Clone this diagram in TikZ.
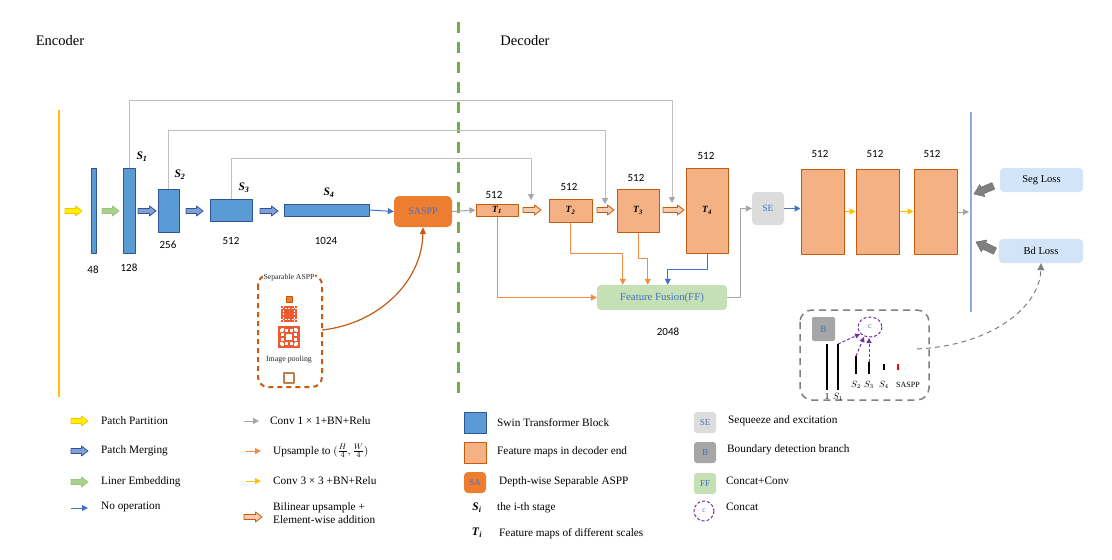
\documentclass[tikz,border=0pt]{standalone}
\usepackage{fontspec}
\setmainfont{Liberation Serif}
\newfontfamily\numfont{Carlito}
\usetikzlibrary{arrows.meta,calc}
\definecolor{swin}{HTML}{5B9BD5}
\definecolor{swinb}{HTML}{2F5597}
\definecolor{feat}{HTML}{F4B183}
\definecolor{featb}{HTML}{C55A11}
\definecolor{sa}{HTML}{ED7D31}
\definecolor{txtblue}{HTML}{4472C4}
\definecolor{lgray}{HTML}{BFBFBF}
\definecolor{agray}{HTML}{A6A6A6}
\definecolor{segray}{HTML}{DCDCDC}
\definecolor{dgreen}{HTML}{70AD47}
\definecolor{gold}{HTML}{FFC000}
\definecolor{ffgreen}{HTML}{C5E0B4}
\definecolor{segc}{HTML}{D2E4F7}
\definecolor{lineblue}{HTML}{8FAADC}
\definecolor{purp}{HTML}{7030A0}
\definecolor{pm}{HTML}{7F9FD6}
\definecolor{lgreen}{HTML}{A9D18E}
\definecolor{lgreenb}{HTML}{9CC47F}
\definecolor{ored}{HTML}{EE5A2E}
\definecolor{bilin}{HTML}{F8CBAD}
\definecolor{oline}{HTML}{F08C46}
\definecolor{hollow}{HTML}{C0804D}
\definecolor{panelgray}{HTML}{7F7F7F}
\newcommand\fsz[1]{\fontsize{#1}{#1}\selectfont}
\newcommand\bisub[2]{\textbf{\textit{#1}}\textsubscript{\textbf{\textit{#2}}}}
\newcommand\blockarr[4]{\filldraw[#1] (#2,#4-2.5) -- (#3-6.5,#4-2.5) -- (#3-6.5,#4-5) -- (#3,#4) -- (#3-6.5,#4+5) -- (#3-6.5,#4+2.5) -- (#2,#4+2.5) -- cycle;}
\tikzset{
  swinbox/.style={draw=swinb, fill=swin, line width=1pt, inner sep=0pt},
  featbox/.style={draw=featb, fill=feat, line width=1pt, inner sep=0pt},
  num/.style={font=\numfont\fsz{11}, inner sep=0pt},
  lab/.style={font=\fsz{11.3}, inner sep=0pt, anchor=west},
  slab/.style={font=\fsz{11.5}, inner sep=0pt},
  tip/.style={-{Triangle[length=6pt,width=6pt]}},
  gline/.style={draw=lgray, line width=1pt, -{Triangle[length=6pt,width=6pt,color=agray,fill=agray]}},
  oarrow/.style={draw=oline, line width=1pt, tip},
  yarrow/.style={draw=gold, line width=1pt, tip},
  barrow/.style={draw=txtblue, line width=1pt, tip},
  garrow/.style={draw=agray, line width=1pt, tip},
  pdash/.style={draw=purp, line width=1pt, dash pattern=on 3pt off 2pt, -{Triangle[length=5pt,width=5pt]}},
}
\begin{document}
\begin{tikzpicture}[x=1pt,y=-1pt,line join=round]
\fill[white] (0,0) rectangle (1112,560);
\useasboundingbox (0,0) rectangle (1112,560);

% titles
\node[font=\fsz{14.5}] (enc) at (60,41) {Encoder};
\node[font=\fsz{14.5}] (dec) at (525,41) {Decoder};

% separators
\draw[gold, line width=2pt] (59,110) coordinate (ytop) -- (59,397) coordinate (ybot);
\draw[dgreen, line width=3pt, dash pattern=on 11pt off 9pt] (458,22) coordinate (gtop) -- (458,395) coordinate (gbot);
\draw[lineblue, line width=2pt] (971,112) coordinate (btop) -- (971,312) coordinate (bbot);

% encoder bars
\node[swinbox, minimum width=5, minimum height=85] (b48) at (93.5,210.5) {};
\node[swinbox, minimum width=12, minimum height=85] (b128) at (129,210.5) {};
\node[swinbox, minimum width=21, minimum height=43] (b256) at (168.5,210.5) {};
\node[swinbox, minimum width=42, minimum height=22] (b512) at (231,210) {};
\node[swinbox, minimum width=85, minimum height=12] (b1024) at (326.5,210) {};
\node[fill=sa, rounded corners=5pt, minimum width=58, minimum height=31, inner sep=0pt, text=txtblue, font=\fsz{10}] (saspp) at (423,211.5) {SASPP};

\node[num] (n48) at (93,270) {48};
\node[num] (n128) at (129,268) {128};
\node[num] (n256) at (168,245) {256};
\node[num] (n512) at (231,241) {512};
\node[num] (n1024) at (326,241) {1024};
\node[slab] (ls1) at (142,157) {\bisub{S}{1}};
\node[slab] (ls2) at (180,175) {\bisub{S}{2}};
\node[slab] (ls3) at (244,188) {\bisub{S}{3}};
\node[slab] (ls4) at (329,193) {\bisub{S}{4}};

% encoder block arrows
\blockarr{draw=gold, fill=yellow, line width=0.8pt}{65}{82}{211}
\blockarr{draw=lgreenb, fill=lgreen, line width=0.8pt}{102}{119}{211}
\blockarr{draw=swinb, fill=pm, line width=0.8pt}{138}{156}{211}
\blockarr{draw=swinb, fill=pm, line width=0.8pt}{186}{203}{211}
\blockarr{draw=swinb, fill=pm, line width=0.8pt}{260}{278}{211}
\draw[barrow] (b1024.east) -- (saspp.west);

% decoder feature maps
\node[featbox, minimum width=42, minimum height=12, font=\fsz{9.5}] (t1) at (497,210) {\bisub{T}{1}};
\node[featbox, minimum width=43, minimum height=23, font=\fsz{9.5}] (t2) at (570.5,210.5) {\bisub{T}{2}};
\node[featbox, minimum width=42, minimum height=43, font=\fsz{9.5}] (t3) at (638,210.5) {\bisub{T}{3}};
\node[featbox, minimum width=42, minimum height=85, font=\fsz{9.5}] (t4) at (707,210.5) {\bisub{T}{4}};
\node[num] (nt1) at (494,195) {512};
\node[num] (nt2) at (569,187) {512};
\node[num] (nt3) at (636,178) {512};
\node[num] (nt4) at (706,156) {512};
\draw[garrow] (saspp.east) -- (t1.west);
\blockarr{draw=featb, fill=bilin, line width=0.8pt}{523}{541}{210}
\blockarr{draw=featb, fill=bilin, line width=0.8pt}{597}{614}{210}
\blockarr{draw=featb, fill=bilin, line width=0.8pt}{663}{684}{210}

% skip connections
\coordinate (g1) at (672,203);
\coordinate (g2) at (605,204);
\coordinate (g3) at (531,200);
\draw[gline] (b128.north) -- ++(0,-67) -| (g1);
\draw[gline] (b256.north) -- ++(0,-58) -| (g2);
\draw[gline] (b512.north) -- ++(0,-40) -| (g3);

% feature fusion
\node[fill=ffgreen, rounded corners=4pt, minimum width=130, minimum height=25, inner sep=0pt, text=txtblue, font=\fsz{10.8}] (ff) at (662,297.5) {Feature Fusion(FF)};
\node[num] (n2048) at (668,332) {2048};
\coordinate (f2) at ([xshift=26pt]ff.north west);
\coordinate (f3) at ([xshift=51pt]ff.north west);
\coordinate (f4) at ([xshift=71pt]ff.north west);
\draw[oarrow] (t1.south) |- (ff.west);
\draw[oarrow] (t2.south) -- ++(0,31) -| (f2);
\draw[oarrow] (t3.south) -- ++(0,26) -| (f3);
\draw[barrow] (t4.south) -- ++(0,16) -| (f4);

% SE and final maps
\node[fill=segray, rounded corners=4pt, minimum width=32, minimum height=33, inner sep=0pt, text=txtblue, font=\fsz{9.5}] (se) at (768,208.5) {SE};
\draw[garrow] (ff.east) -- ++(13,0) |- (se.west);
\node[featbox, minimum width=43, minimum height=85] (d1) at (822.5,211.5) {};
\node[featbox, minimum width=43, minimum height=85] (d2) at (877.5,211.5) {};
\node[featbox, minimum width=43, minimum height=85] (d3) at (935.5,211.5) {};
\node[num] (nd1) at (820,154) {512};
\node[num] (nd2) at (875,154) {512};
\node[num] (nd3) at (932,154) {512};
\draw[barrow] (se.east) -- (d1.west |- se.east);
\draw[yarrow] (d1.east) -- (d2.west);
\draw[yarrow] (d2.east) -- (d3.west);
\coordinate (vl) at (969,212);
\draw[garrow] (d3.east |- vl) -- (vl);

% losses
\node[fill=segc, rounded corners=4pt, minimum width=83, minimum height=24, inner sep=0pt, font=\fsz{10.5}] (seg) at (1041.5,180) {Seg Loss};
\node[fill=segc, rounded corners=4pt, minimum width=84, minimum height=24, inner sep=0pt, font=\fsz{10.5}] (bd) at (1041,251) {Bd Loss};
\begin{scope}[shift={(974,194)}, rotate=22.8]
\filldraw[draw=gray!90!black, fill=gray, line width=0.6pt] (0,0) -- (9,-6.5) -- (9,-3.5) -- (21,-3.5) -- (21,3.5) -- (9,3.5) -- (9,6.5) -- cycle;
\end{scope}
\begin{scope}[shift={(976,242)}, rotate=-25.5]
\filldraw[draw=gray!90!black, fill=gray, line width=0.6pt] (0,0) -- (9,-6.5) -- (9,-3.5) -- (21,-3.5) -- (21,3.5) -- (9,3.5) -- (9,6.5) -- cycle;
\end{scope}

% boundary panel
\draw[panelgray, line width=1.5pt, dash pattern=on 7pt off 5pt, rounded corners=12pt] (800,310) rectangle (929,400);
\node[fill=agray, rounded corners=2pt, minimum width=23, minimum height=24, inner sep=0pt, text=txtblue, font=\fsz{9.5}] (bb) at (823.5,329) {B};
\draw[purp, line width=1pt, dash pattern=on 3pt off 2pt] (870,327) ellipse [x radius=12, y radius=10];
\node[text=txtblue, font=\fsz{8}, inner sep=0pt] (cc) at (870,327) {c};
\coordinate (c1) at (860,334);
\coordinate (c2) at (864,337);
\coordinate (c3) at (869,338);
\draw[line width=1.2pt] (827,344) coordinate (l1t) -- (827,390);
\draw[line width=1.2pt] (838,344) coordinate (l2t) -- (838,390);
\draw[line width=1.2pt] (856,356) coordinate (l3t) -- (856,374);
\draw[line width=1.2pt] (869,362) coordinate (l4t) -- (869,374);
\draw[line width=1.2pt] (884,364) -- (884,370);
\draw[red, line width=1.2pt] (898,364) -- (898,370);
\draw[pdash] (l2t) -- (c1);
\draw[pdash] (l3t) -- (c2);
\draw[pdash] (l4t) -- (c3);
\node[inner sep=0pt, font=\fsz{9}] (bs2) at (856,385) {$S_2$};
\node[inner sep=0pt, font=\fsz{9}] (bs3) at (869,385) {$S_3$};
\node[inner sep=0pt, font=\fsz{9}] (bs4) at (884,385) {$S_4$};
\node[inner sep=0pt, font=\fsz{8}] (bsa) at (908,385) {SASPP};
\node[inner sep=0pt, font=\fsz{9}] (b1) at (827,397) {1};
\node[inner sep=0pt, font=\fsz{9}] (bs1) at (838,397) {$S_1$};
\coordinate (pout) at (917,349);
\draw[panelgray, line width=1pt, dash pattern=on 5pt off 4pt, -{Triangle[length=7pt,width=7pt]}] (pout) .. controls (995,345) and (1040,305) .. (bd.south);

% separable ASPP panel
\draw[featb, line width=2pt, dash pattern=on 5pt off 4pt, rounded corners=10pt] (258,275) rectangle (322,387);
\node[fill=white, inner sep=1pt, font=\fsz{7.7}, text=black!85] (sepl) at (289,278) {Separable ASPP};
\node[draw=featb, fill=sa, minimum size=6, inner sep=0pt] (sq1) at (289,299) {};
\node[fill=ored, minimum size=16, inner sep=0pt] (gr1) at (289,314) {};
\draw[white, line width=1.2pt, dash pattern=on 2pt off 1.5pt] (283.7,306) -- (283.7,322) (294.3,306) -- (294.3,322) (281,308.7) -- (297,308.7) (281,319.3) -- (297,319.3);
\node[fill=ored, minimum size=22, inner sep=0pt] (gr2) at (289,337) {};
\draw[white, line width=2.2pt, dash pattern=on 3pt off 2pt] (282.5,328) -- (282.5,346) (295.5,328) -- (295.5,346) (280,330.5) -- (298,330.5) (280,343.5) -- (298,343.5);
\fill[white] (286,334) rectangle (292,340);
\node[inner sep=0pt, font=\fsz{7.9}, text=black!85] (impl) at (289,360) {Image pooling};
\node[draw=hollow, fill=white, line width=1.2pt, minimum size=10, inner sep=0pt] (sq2) at (289,378) {};
\coordinate (pa) at (322,330);
\draw[featb, line width=1.2pt, -{Triangle[length=7pt,width=6pt]}] (pa) .. controls (378,324) and (422,282) .. (saspp.south);

% legend column 1
\blockarr{draw=gold, fill=yellow, line width=0.8pt}{71}{88}{421}
\blockarr{draw=swinb, fill=pm, line width=0.8pt}{71}{88}{451}
\blockarr{draw=lgreenb, fill=lgreen, line width=0.8pt}{71}{88}{482}
\coordinate (lna) at (71,508); \coordinate (lnb) at (88,508);
\draw[barrow] (lna) -- (lnb);
\node[lab] (lg1) at (101,421) {Patch Partition};
\node[lab] (lg2) at (101,451) {Patch Merging};
\node[lab] (lg3) at (101,482) {Liner Embedding};
\node[lab] (lg4) at (101,507) {No operation};

% legend column 2
\coordinate (la1) at (244,421); \coordinate (lb1) at (259,421);
\coordinate (la2) at (246,451); \coordinate (lb2) at (261,451);
\coordinate (la3) at (246,481); \coordinate (lb3) at (261,481);
\draw[garrow] (la1) -- (lb1);
\draw[oarrow] (la2) -- (lb2);
\draw[yarrow] (la3) -- (lb3);
\blockarr{draw=featb, fill=bilin, line width=0.8pt}{244}{262}{517}
\node[lab] (lg5) at (270,421) {Conv 1 × 1+BN+Relu};
\node[lab] (lg6) at (273,451) {Upsample to $(\frac{H}{4},\frac{W}{4})$};
\node[lab] (lg7) at (273,481) {Conv 3 × 3 +BN+Relu};
\node[lab, align=left] (lg8) at (273,513) {Bilinear upsample +\\[1pt]Element-wise addition};

% legend column 3
\node[swinbox, minimum width=22, minimum height=21] (lsw) at (475,422.5) {};
\node[featbox, minimum width=22, minimum height=21] (lfe) at (475,452.5) {};
\node[fill=sa, rounded corners=4pt, minimum width=22, minimum height=21, inner sep=0pt, text=txtblue, font=\fsz{9}] (lsa) at (475,482.5) {SA};
\node[slab] (lsi) at (477,508) {\bisub{S}{i}};
\node[slab] (lti) at (477,533) {\bisub{T}{i}};
\node[lab] (lg9) at (497,423) {Swin Transformer Block};
\node[lab] (lg10) at (497,452) {Feature maps in decoder end};
\node[lab] (lg11) at (499,482) {Depth-wise Separable ASPP};
\node[lab] (lg12) at (497,508) {the i-th stage};
\node[lab] (lg13) at (499,534) {Feature maps of different scales};

% legend column 4
\node[fill=segray, rounded corners=3pt, minimum width=22, minimum height=21, inner sep=0pt, text=txtblue, font=\fsz{9}] (lse) at (705,422.5) {SE};
\node[fill=agray, rounded corners=3pt, minimum width=22, minimum height=21, inner sep=0pt, text=txtblue, font=\fsz{9}] (lbb) at (705,452.5) {B};
\node[fill=ffgreen, rounded corners=3pt, minimum width=22, minimum height=21, inner sep=0pt, text=txtblue, font=\fsz{9}] (lff) at (705,483.5) {FF};
\draw[purp, line width=1pt, dash pattern=on 3pt off 2pt] (704,511) circle [radius=10];
\node[text=txtblue, font=\fsz{7.5}, inner sep=0pt] (lcc) at (704,511) {c};
\node[lab] (lg14) at (728,421) {Sequeeze and excitation};
\node[lab] (lg15) at (727,450) {Boundary detection branch};
\node[lab] (lg16) at (726,481) {Concat+Conv};
\node[lab] (lg17) at (726,507) {Concat};
\end{tikzpicture}
\end{document}
